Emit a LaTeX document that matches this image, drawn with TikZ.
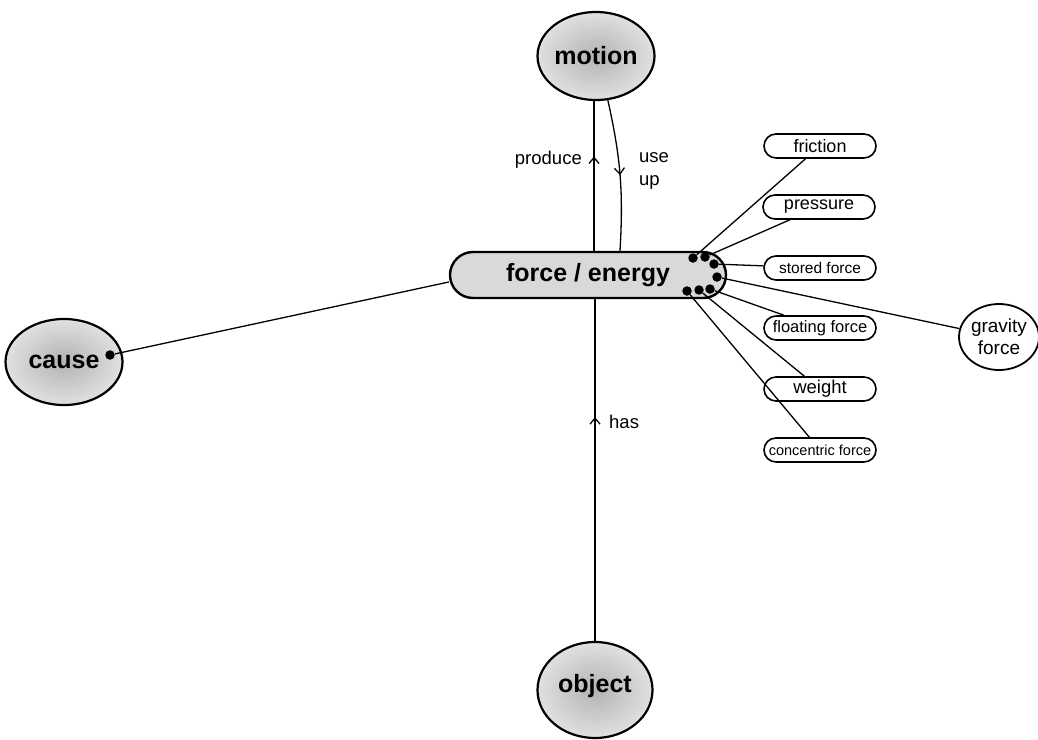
\documentclass[tikz,border=0pt]{standalone}
\usepackage{fontspec}
\setmainfont{Liberation Sans}
\usetikzlibrary{shapes.geometric,shapes.misc,arrows.meta,decorations.markings}

\begin{document}
\begin{tikzpicture}[x=1pt,y=-1pt,
  concept/.style={ellipse, draw, line width=2.2pt, inner sep=0pt,
    inner color=black!30, outer color=black!12},
  bigtext/.style={font=\fontsize{25}{26}\selectfont\bfseries, inner sep=0pt},
  hub/.style={rounded rectangle, draw, line width=2.4pt, fill=black!15,
    minimum width=276pt, minimum height=46pt, inner sep=0pt,
    font=\fontsize{25}{26}\selectfont\bfseries},
  kind/.style={rounded rectangle, draw, line width=1.6pt, fill=white,
    minimum width=112pt, minimum height=24pt, inner sep=0pt},
  link/.style={line width=1.3pt},
  knob/.style={circle, fill=black, minimum size=9.5pt, inner sep=0pt},
  lbl/.style={font=\fontsize{18.5}{23}\selectfont, inner sep=0pt},
  midarrow/.style={postaction={decorate}, decoration={markings,
    mark=at position #1 with {\arrow{Straight Barb[length=6pt,width=10pt,line width=1.3pt]}}}}
]
\useasboundingbox (0,0) rectangle (1038,739);

% main concepts
\node[hub] (force) at (588,275) {force / energy};
\node[concept, minimum width=117pt, minimum height=88pt,
  label={[bigtext]center:motion}] (motion) at (596,56) {};
\node[concept, minimum width=117pt, minimum height=86pt,
  label={[bigtext]center:cause}] (cause) at (64,362) {};
\node[concept, minimum width=115pt, minimum height=96pt,
  label={[bigtext, yshift=4pt]center:object}] (object) at (595,690) {};
\node[ellipse, draw, line width=1.8pt, fill=white, minimum width=80pt, minimum height=66pt,
  inner sep=0pt, label={[align=center, font=\fontsize{19}{22}\selectfont]center:gravity\\force}] (gravity) at (999,337) {};

% kinds of force
\node[kind, font=\fontsize{18}{20}\selectfont] (friction) at (820,146) {friction};
\node[kind, font=\fontsize{18}{20}\selectfont] (pressure) at (819,207) {pressure};
\node[kind, font=\fontsize{15.5}{18}\selectfont] (stored) at (820,268) {stored force};
\node[kind, font=\fontsize{16.5}{18}\selectfont] (floating) at (820,328) {floating force};
\node[kind, font=\fontsize{18.5}{20}\selectfont] (weight) at (820,389) {weight};
\node[kind, font=\fontsize{14.5}{17}\selectfont] (concentric) at (820,450) {concentric force};

% attachment dots on the hub
\node[knob] (k1) at (693,258) {};
\node[knob] (k2) at (705,257) {};
\node[knob] (k3) at (714,264) {};
\node[knob] (k4) at (717,277) {};
\node[knob] (k5) at (710,289) {};
\node[knob] (k6) at (699,290) {};
\node[knob] (k7) at (687,291) {};
\node[knob] (kc) at (110,355) {};

% connectors
\draw[link] (k1) -- (friction);
\draw[link] (k2) -- (pressure);
\draw[link] (k3) -- (stored);
\draw[link] (k4) -- (gravity);
\draw[link] (k5) -- (floating);
\draw[link] (k6) -- (weight);
\draw[link] (k7) -- (concentric);
\draw[link] (kc) -- ([yshift=-7pt]force.west);

\draw[link, midarrow=0.63] ([xshift=-2pt]motion.south |- force.north) -- ([xshift=-2pt]motion.south);
\draw[link, midarrow=0.5] (motion.-75) to[bend left=8] ([xshift=32pt]force.north);
\draw[link, midarrow=0.655] (object.north) -- (object.north |- force.south);

% link labels
\node[lbl, anchor=east] (lproduce) at (582,160) {produce};
\node[lbl, anchor=west, align=left] (luseup) at (639,171) {use\\up};
\node[lbl, anchor=west] (lhas) at (609,422) {has};
\end{tikzpicture}
\end{document}
